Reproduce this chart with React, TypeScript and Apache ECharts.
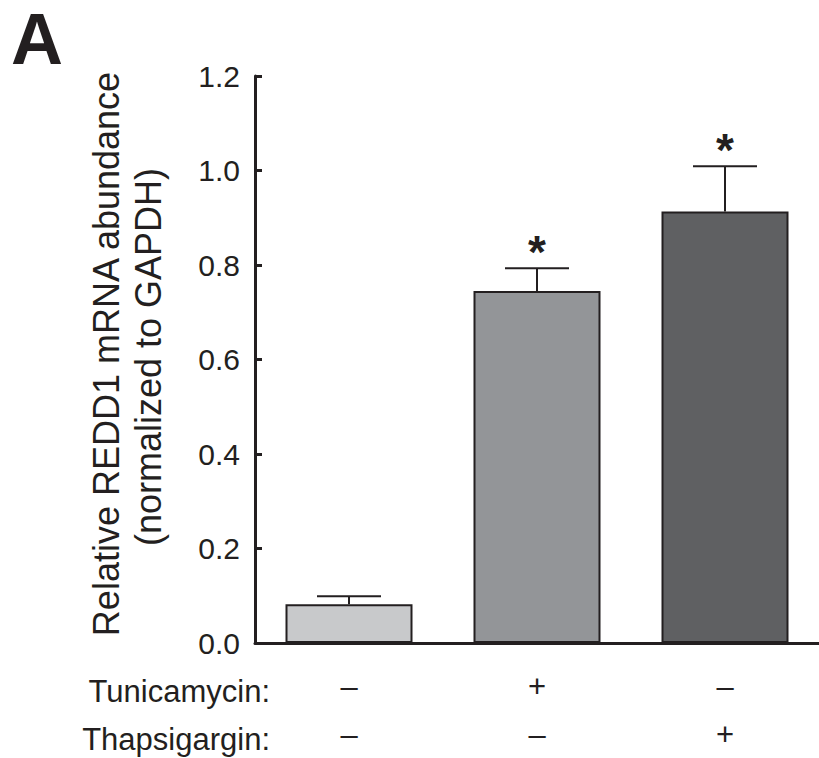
import React, { useEffect, useRef } from "react";
import * as echarts from "echarts";

const categories = ["–\n–", "+\n–", "–\n+"];
const rowLabels = ["Tunicamycin:", "Thapsigargin:"];
const means = [0.082, 0.745, 0.913];
const errTops = [0.099, 0.793, 1.009];
const significance = ["", "*", "*"];
const barColors = ["#c8c9cb", "#939598", "#5f6062"];
const yTitle = ["Relative REDD1 mRNA abundance", "(normalized to GAPDH)"];
const panelLabel = "A";

const FONT = "'Liberation Sans', Arial, Helvetica, sans-serif";
const INK = "#231f20";

export default function App() {
  const ref = useRef<HTMLDivElement>(null);
  useEffect(() => {
    if (!ref.current) return;
    const chart = echarts.init(ref.current, undefined, { renderer: "svg" });
    const option: any = {
      animation: false,
      backgroundColor: "#ffffff",
      grid: { left: 255, top: 76, width: 573, bottom: 110 },
      xAxis: {
        type: "category",
        data: categories,
        axisLine: { show: true, lineStyle: { color: INK, width: 3 } },
        axisTick: { show: false },
        axisLabel: {
          fontFamily: FONT,
          fontSize: 31,
          color: INK,
          lineHeight: 48,
          margin: 19,
          interval: 0,
        },
      },
      yAxis: {
        type: "value",
        min: 0,
        max: 1.2,
        interval: 0.2,
        splitLine: { show: false },
        axisLine: { show: true, lineStyle: { color: INK, width: 3 } },
        axisTick: { show: true, inside: true, length: 7, lineStyle: { color: INK, width: 3 } },
        axisLabel: {
          fontFamily: FONT,
          fontSize: 30,
          color: INK,
          margin: 15,
          formatter: (v: number) => v.toFixed(1),
        },
      },
      graphic: [
        {
          type: "text",
          x: 11,
          y: 3,
          style: {
            text: panelLabel,
            font: `bold 72px ${FONT}`,
            fill: INK,
            align: "left",
            verticalAlign: "top",
          },
        },
        {
          type: "text",
          x: 106,
          y: 354,
          rotation: Math.PI / 2,
          style: {
            text: yTitle[0],
            font: `36px ${FONT}`,
            fill: INK,
            align: "center",
            verticalAlign: "middle",
          },
        },
        {
          type: "text",
          x: 148,
          y: 357,
          rotation: Math.PI / 2,
          style: {
            text: yTitle[1],
            font: `36px ${FONT}`,
            fill: INK,
            align: "center",
            verticalAlign: "middle",
          },
        },
        {
          type: "text",
          x: 270,
          y: 691,
          style: {
            text: rowLabels[0],
            font: `31px ${FONT}`,
            fill: INK,
            align: "right",
            verticalAlign: "middle",
          },
        },
        {
          type: "text",
          x: 270,
          y: 739,
          style: {
            text: rowLabels[1],
            font: `31px ${FONT}`,
            fill: INK,
            align: "right",
            verticalAlign: "middle",
          },
        },
      ],
      series: [
        {
          type: "bar",
          barWidth: 127,
          data: means.map((v, i) => ({
            value: v,
            itemStyle: { color: barColors[i], borderColor: INK, borderWidth: 2 },
          })),
          z: 2,
        },
        {
          type: "custom",
          z: 5,
          data: means.map((v, i) => [i, v, errTops[i]]),
          renderItem: (params: any, api: any) => {
            const i = api.value(0);
            const base = api.coord([i, api.value(1)]);
            const top = api.coord([i, api.value(2)]);
            const half = 32;
            const idx = params.dataIndex;
            const children: any[] = [
              {
                type: "line",
                shape: { x1: base[0], y1: base[1], x2: top[0], y2: top[1] },
                style: { stroke: INK, lineWidth: 2 },
              },
              {
                type: "line",
                shape: { x1: top[0] - half, y1: top[1], x2: top[0] + half, y2: top[1] },
                style: { stroke: INK, lineWidth: 2 },
              },
            ];
            const sig = significance[idx];
            if (sig) {
              children.push({
                type: "text",
                x: top[0],
                y: top[1] - 16,
                style: {
                  text: sig,
                  font: `bold 46px ${FONT}`,
                  fill: INK,
                  align: "center",
                  verticalAlign: "middle",
                },
              });
            }
            return { type: "group", children };
          },
        },
      ],
    };
    chart.setOption(option);
    return () => chart.dispose();
  }, []);
  return (
    <div
      ref={ref}
      style={{ position: "absolute", left: 0, top: 0, width: 819, height: 758 }}
    />
  );
}
